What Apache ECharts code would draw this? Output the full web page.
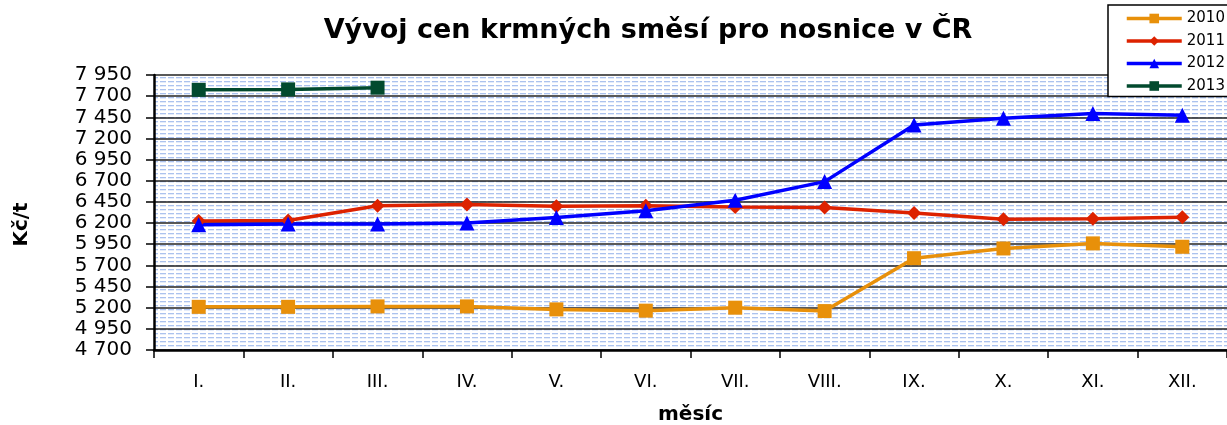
<!DOCTYPE html>
<html>
<head>
<meta charset="utf-8">
<script src="https://cdn.jsdelivr.net/npm/echarts@6/dist/echarts.min.js"></script>
<style>
html,body{margin:0;padding:0;background:#fff;}
#chart{width:1227px;height:425px;}
</style>
</head>
<body>
<div id="chart"></div>
<script>
const months = ['I.', 'II.', 'III.', 'IV.', 'V.', 'VI.', 'VII.', 'VIII.', 'IX.', 'X.', 'XI.', 'XII.'];
const s2010 = [5210, 5210, 5215, 5215, 5180, 5165, 5200, 5160, 5785, 5900, 5960, 5920];
const s2011 = [6225, 6230, 6405, 6420, 6400, 6405, 6390, 6385, 6320, 6245, 6250, 6270];
const s2012 = [6180, 6190, 6190, 6200, 6265, 6345, 6470, 6690, 7360, 7440, 7495, 7475];
const s2013 = [7775, 7780, 7800];
const yTicks = { min: 4700, max: 7950, step: 250 };

function fmt(v) { return String(v).replace(/\B(?=(\d{3})+(?!\d))/g, ' '); }

// dashed-horizontal pattern for plot background
const pc = document.createElement('canvas');
pc.width = 8; pc.height = 4;
const pctx = pc.getContext('2d');
pctx.fillStyle = '#ffffff';
pctx.fillRect(0, 0, 8, 4);
pctx.fillStyle = '#abc2ee';
pctx.fillRect(0, 1, 6, 1);
pctx.fillStyle = '#e4ecfa';
pctx.fillRect(0, 2, 6, 1);

const chart = echarts.init(document.getElementById('chart'));
const font = 'DejaVu Sans';
function ser(name, data, color, symbol) {
  return {
    name: name, type: 'line', data: data,
    symbol: symbol, symbolSize: symbol === 'triangle' ? 15 : 14,
    showAllSymbol: true,
    lineStyle: { color: color, width: 3.5 },
    itemStyle: { color: color },
    emphasis: { disabled: true },
    animation: false
  };
}
chart.setOption({
  animation: false,
  textStyle: { fontFamily: font },
  title: {
    text: 'Vývoj cen krmných směsí pro nosnice v ČR',
    left: 643, textAlign: 'center', top: 12,
    textStyle: { fontFamily: font, fontSize: 27, fontWeight: 'bold', color: '#000' }
  },
  legend: {
    left: 1108, top: 5, orient: 'vertical',
    backgroundColor: '#fff',
    borderColor: '#000', borderWidth: 1.5,
    padding: [6, 20, 3, 17],
    itemWidth: 55, itemHeight: 12, itemGap: 7.5,
    lineStyle: { width: 3.5 },
    textStyle: { fontFamily: font, fontSize: 15, color: '#000' },
    data: ['2010', '2011', '2012', '2013']
  },
  grid: {
    left: 154, right: 0, top: 75, bottom: 75,
    outerBoundsMode: 'none', containLabel: false,
    show: true, borderWidth: 0,
    backgroundColor: { image: pc, repeat: 'repeat' }
  },
  xAxis: {
    type: 'category', data: months, boundaryGap: true,
    name: 'měsíc', nameLocation: 'middle', nameGap: 55,
    nameTextStyle: { fontFamily: font, fontSize: 20, fontWeight: 'bold', color: '#000' },
    axisLine: { lineStyle: { color: '#000', width: 2.5 } },
    axisTick: { show: true, length: 8, alignWithLabel: false, lineStyle: { color: '#000', width: 1.5 } },
    axisLabel: { fontFamily: font, fontSize: 18, color: '#000', margin: 23, interval: 0 },
    splitLine: { show: false }
  },
  yAxis: {
    type: 'value', min: yTicks.min, max: yTicks.max, interval: yTicks.step,
    name: 'Kč/t', nameLocation: 'middle', nameGap: 122, nameRotate: 90,
    nameTextStyle: { fontFamily: font, fontSize: 20, fontWeight: 'bold', color: '#000', padding: [0, 24, 0, 0] },
    axisLine: { show: true, lineStyle: { color: '#000', width: 2.5 } },
    axisTick: { show: true, length: 8, lineStyle: { color: '#000', width: 1.5 } },
    axisLabel: { fontFamily: font, fontSize: 20, color: '#000', margin: 22, formatter: fmt },
    splitLine: { show: true, lineStyle: { color: '#222', width: 1.6 } }
  },
  series: [
    ser('2010', s2010, '#e8900a', 'rect'),
    ser('2011', s2011, '#dd2200', 'diamond'),
    ser('2012', s2012, '#0000ff', 'triangle'),
    ser('2013', s2013, '#024a2e', 'rect')
  ]
});
</script>
</body>
</html>
